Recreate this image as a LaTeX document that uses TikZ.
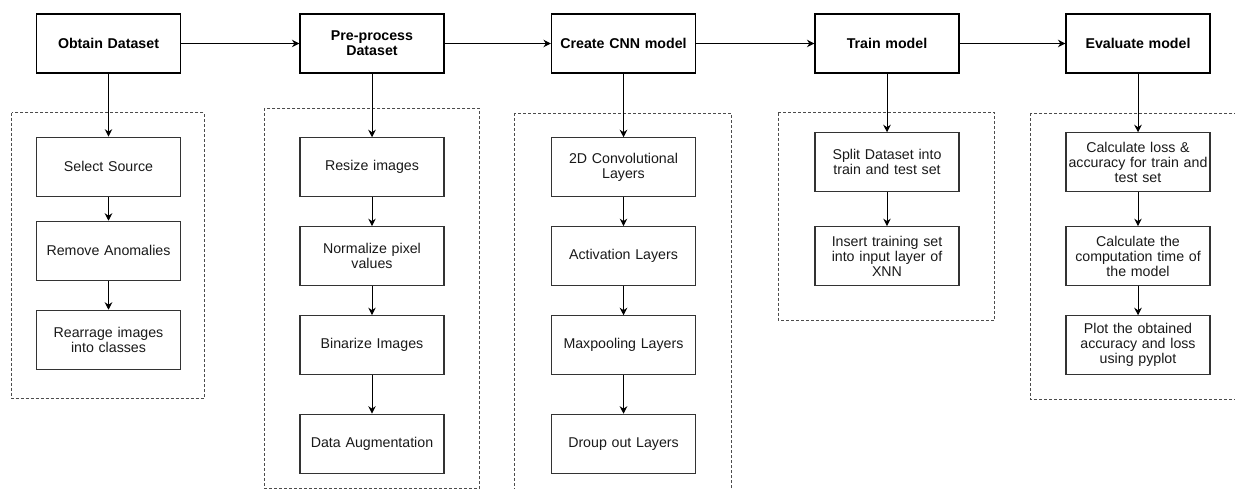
\documentclass[tikz,border=0pt]{standalone}
\usepackage{fontspec}
\setmainfont{Liberation Sans}
\usetikzlibrary{arrows.meta}
\begin{document}
\begin{tikzpicture}[x=1pt,y=-1pt,
  stage/.style={draw=black,line width=1.1pt,minimum width=144pt,minimum height=59pt,
    align=center,text width=142pt,inner sep=0pt,font=\fontsize{14.2}{15}\selectfont\bfseries},
  task/.style={draw=black!80,line width=1.1pt,minimum width=144pt,minimum height=59pt,
    align=center,text width=142pt,inner sep=0pt,text=black!90,font=\fontsize{14.2}{15}\selectfont},
  group/.style={draw=black!70,line width=0.9pt,dash pattern=on 3pt off 2pt},
  flow/.style={draw=black,line width=1pt,-{Stealth[length=7.5pt,width=7.5pt]}}]
\useasboundingbox (0,0) rectangle (1235,489);
\clip (0,0) rectangle (1235,489);

% dashed groups
\draw[group] (11.7,112.7) rectangle (204,398.7);
\draw[group] (264,108.3) rectangle (479.7,488.3);
\draw[group] (514.7,113.3) rectangle (731,520);
\draw[group] (778.3,112.7) rectangle (994.7,320);
\draw[group] (1030,113.3) rectangle (1260,399.3);

% main stages
\node[stage] (s1) at (108.5,43.5) {Obtain Dataset};
\node[stage] (s2) at (372,43.5) {Pre-process\\Dataset};
\node[stage] (s3) at (623.5,43.5) {Create CNN model};
\node[stage] (s4) at (887,43.5) {Train model};
\node[stage] (s5) at (1138,43.5) {Evaluate model};

% column 1
\node[task] (a1) at (108.5,166.7) {Select Source};
\node[task] (a2) at (108.5,250.8) {Remove Anomalies};
\node[task] (a3) at (108.5,339.8) {Rearrage images\\into classes};

% column 2
\node[task] (b1) at (372,167.3) {Resize images};
\node[task] (b2) at (372,256.2) {Normalize pixel\\values};
\node[task] (b3) at (372,345.2) {Binarize Images};
\node[task] (b4) at (372,443.7) {Data Augmentation};

% column 3
\node[task] (c1) at (623.5,167.3) {2D Convolutional\\Layers};
\node[task] (c2) at (623.5,256.2) {Activation Layers};
\node[task] (c3) at (623.5,345.3) {Maxpooling Layers};
\node[task] (c4) at (623.5,443.8) {Droup out Layers};

% column 4
\node[task] (d1) at (887,162.3) {Split Dataset into\\train and test set};
\node[task] (d2) at (887,256.2) {Insert training set\\into input layer of\\XNN};

% column 5
\node[task] (e1) at (1138,162.3) {Calculate loss \&\\accuracy for train and\\test set};
\node[task] (e2) at (1138,256.2) {Calculate the\\computation time of\\the model};
\node[task] (e3) at (1138,345.3) {Plot the obtained\\accuracy and loss\\using pyplot};

% connectors
\draw[flow] (s1) -- (s2);
\draw[flow] (s2) -- (s3);
\draw[flow] (s3) -- (s4);
\draw[flow] (s4) -- (s5);

\draw[flow] (s1) -- (a1);
\draw[flow] (a1) -- (a2);
\draw[flow] (a2) -- (a3);

\draw[flow] (s2) -- (b1);
\draw[flow] (b1) -- (b2);
\draw[flow] (b2) -- (b3);
\draw[flow] (b3) -- (b4);

\draw[flow] (s3) -- (c1);
\draw[flow] (c1) -- (c2);
\draw[flow] (c2) -- (c3);
\draw[flow] (c3) -- (c4);

\draw[flow] (s4) -- (d1);
\draw[flow] (d1) -- (d2);

\draw[flow] (s5) -- (e1);
\draw[flow] (e1) -- (e2);
\draw[flow] (e2) -- (e3);
\end{tikzpicture}
\end{document}
